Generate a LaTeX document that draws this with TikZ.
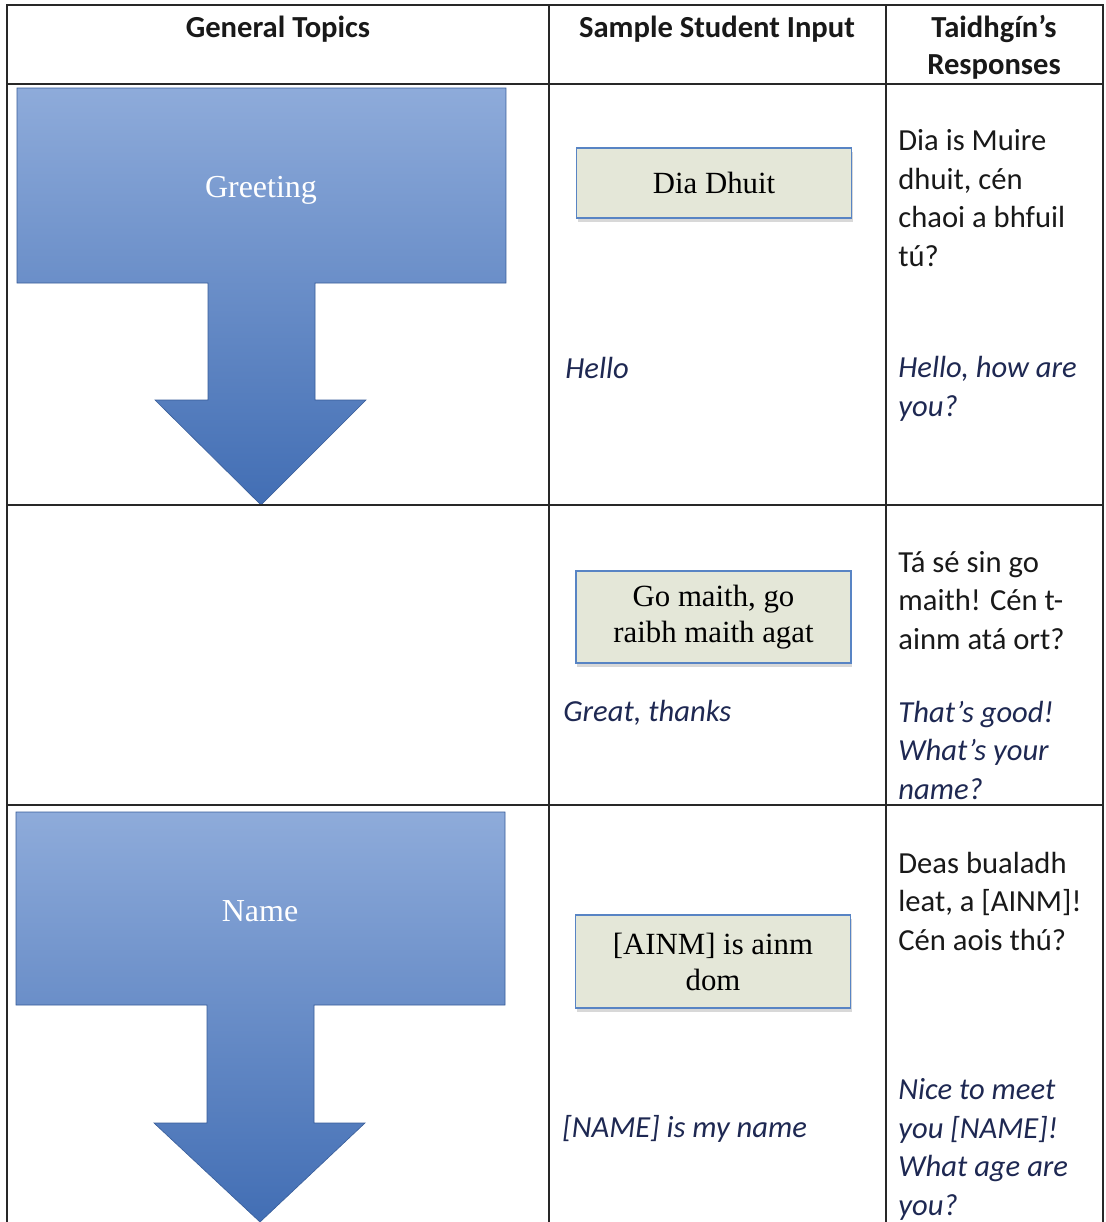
\documentclass[tikz,border=0pt]{standalone}
\usepackage{fontspec}
\setmainfont{Carlito}
\newfontfamily\boxfont{Liberation Serif}
\usetikzlibrary{shadows}
\definecolor{gridline}{RGB}{40,40,40}
\definecolor{arrowtop}{RGB}{142,171,218}
\definecolor{arrowbot}{RGB}{66,110,180}
\definecolor{boxfill}{RGB}{228,231,216}
\definecolor{boxedge}{RGB}{88,132,196}
\definecolor{navytext}{RGB}{30,40,82}
\definecolor{inktext}{RGB}{25,25,25}

\begin{document}
\begin{tikzpicture}[
        x=0.5pt, y=-0.5pt,
        grid/.style={draw=gridline, line width=0.8pt},
        topic/.style={top color=arrowtop, bottom color=arrowbot, draw=arrowbot!85!black, line width=0.3pt},
        topiclabel/.style={text=white, font=\boxfont\fontsize{16}{19}\selectfont},
        head/.style={anchor=base, align=center, inner sep=0pt, text=inktext, font=\bfseries\fontsize{15.3}{18.5}\selectfont},
        input/.style={rectangle, draw=boxedge, fill=boxfill, line width=0.8pt, minimum width=137.5pt, align=center, font=\boxfont\fontsize{15.4}{18}\selectfont, drop shadow={shadow xshift=0.5pt, shadow yshift=-1.8pt, opacity=0.3}},
        reply/.style={anchor=base west, align=left, inner sep=0pt, text=inktext, font=\fontsize{15.3}{19.2}\selectfont},
        english/.style={reply, text=navytext, font=\itshape\fontsize{15.3}{19.2}\selectfont}
    ]
        \useasboundingbox (0,0) rectangle (1106,1222);
        \fill[white] (0,0) rectangle (1106,1222);

        % Topic arrows (left column)
        \shadedraw[topic] (17,88) -- (506,88) -- (506,283) -- (315,283) -- (315,400) -- (366,400) -- (261,505) -- (155,400) -- (208,400) -- (208,283) -- (17,283) -- cycle;
        \node[topiclabel] (greeting) at (261,190) {Greeting};
        \shadedraw[topic] (16,812) -- (505,812) -- (505,1005) -- (314,1005) -- (314,1123) -- (365,1123) -- (260,1222) -- (154,1123) -- (207,1123) -- (207,1005) -- (16,1005) -- cycle;
        \node[topiclabel] (name) at (260,911) {Name};

        % Table rules
        \draw[grid] (7,1222) -- (7,5) -- (1103,5) -- (1103,1222);
        \draw[grid] (549,5) -- (549,1222);
        \draw[grid] (886,5) -- (886,1222);
        \draw[grid] (7,84) -- (1103,84);
        \draw[grid] (7,505) -- (1103,505);
        \draw[grid] (7,805) -- (1103,805);

        % Header row (base = last line)
        \node[head] (hdtopics) at (278,37) {General Topics};
        \node[head] (hdinput) at (717,37) {Sample Student Input};
        \node[head] (hdreply) at (994,74) {Taidhgín’s\\Responses};

        % Student input boxes
        \node[input, minimum height=35pt] (in1) at (714,183) {Dia Dhuit};
        \node[input, minimum height=46pt] (in2) at (713.5,617) {Go maith, go\\raibh maith agat};
        \node[input, minimum height=46.5pt] (in3) at (713,961.5) {[AINM] is ainm\\dom};

        % Responses (base = last line)
        \node[reply] (rep1) at (898,266) {Dia is Muire\\dhuit, cén\\chaoi a bhfuil\\tú?};
        \node[english] (en1) at (565,378) {Hello};
        \node[english] (enrep1) at (898,416) {Hello, how are\\you?};
        \node[reply] (rep2) at (898,649) {Tá sé sin go\\maith! Cén t-\\ainm atá ort?};
        \node[english] (en2) at (563,721) {Great, thanks};
        \node[english] (enrep2) at (898,799) {That’s good!\\What’s your\\name?};
        \node[reply] (rep3) at (898,950) {Deas bualadh\\leat, a [AINM]!\\Cén aois thú?};
        \node[english] (en3) at (562,1137) {[NAME] is my name};
        \node[english] (enrep3) at (898,1215) {Nice to meet\\you [NAME]!\\What age are\\you?};
    \end{tikzpicture}
\end{document}
